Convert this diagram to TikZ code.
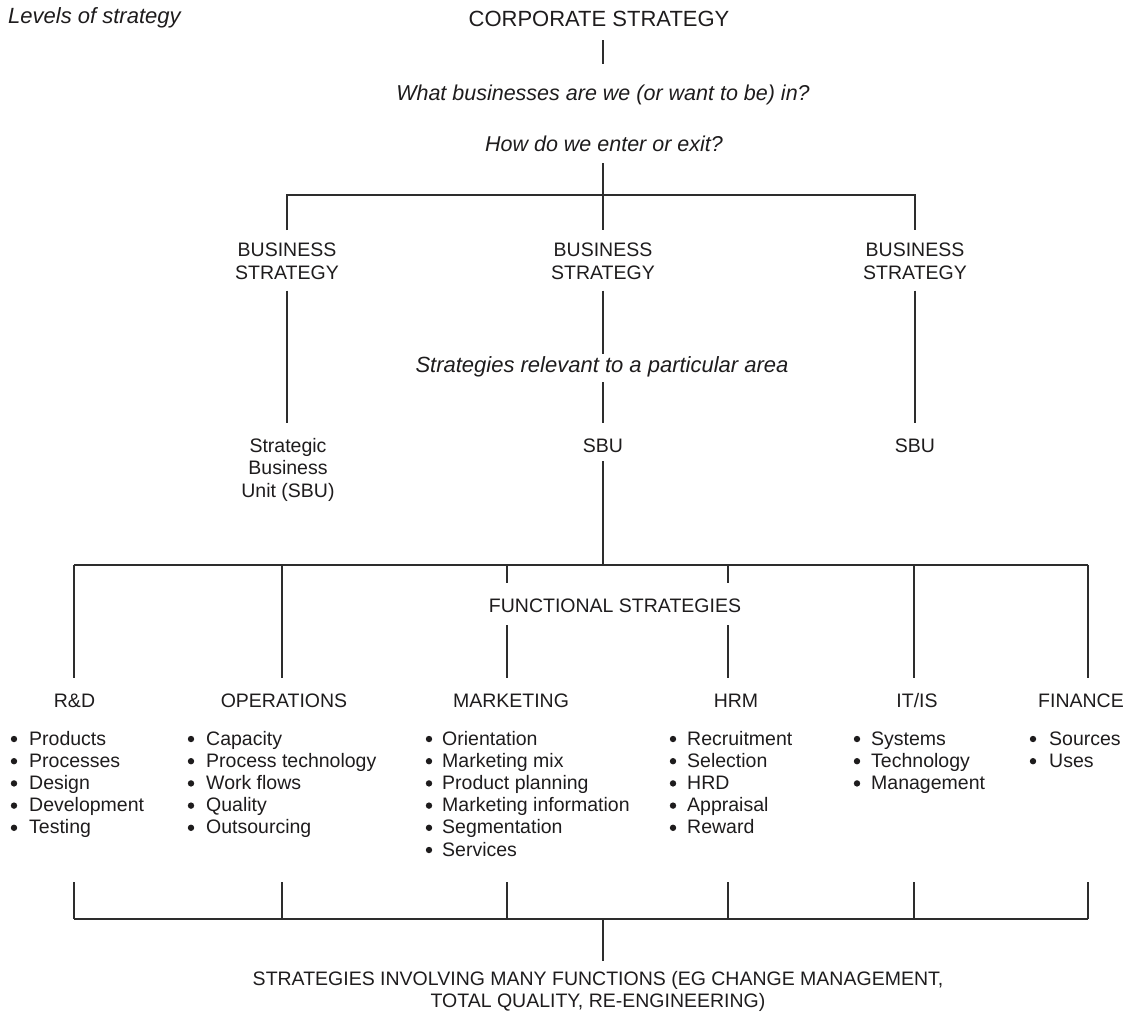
\documentclass[tikz,border=0pt]{standalone}
\usepackage{fontspec}
\setmainfont{Liberation Sans}
\usetikzlibrary{calc}
\definecolor{ink}{RGB}{30,28,29}
\definecolor{rule}{RGB}{45,45,45}

% one column of bulleted items: name, text x, bullet x, items
\newcommand\itemcolumn[4]{%
  \foreach \lbl [count=\i] in {#4} {
    \node[item] (#1-\i) at (#2, {745+22.2*(\i-1)}) {\lbl};
    \fill[ink] (#3, {739+22.2*(\i-1)}) circle (3.2pt);
  }}

\begin{document}
\begin{tikzpicture}[x=1pt,y=-1pt,
  txt/.style={inner sep=0pt, text=ink, font=\fontsize{19.5}{22.4}\selectfont},
  one/.style={txt, anchor=base, text height=14pt, text depth=0pt},
  multi/.style={txt, anchor=north, align=center},
  item/.style={txt, anchor=base west},
  itl/.style={one, font=\itshape\fontsize{22}{26}\selectfont, text height=16pt},
  big/.style={one, font=\fontsize{22}{26}\selectfont, text height=16pt},
  link/.style={draw=rule, line width=1.3pt},
]
\useasboundingbox (0,0) rectangle (1134,1015);

% ---- corporate level ----
\node[itl, anchor=base west] (title) at (8,23) {Levels of strategy};
\node[big] (corp) at (599,26) {CORPORATE STRATEGY};
\node[itl, font=\itshape\fontsize{21.5}{26}\selectfont] (what) at (603,100) {What businesses are we (or want to be) in?};
\node[itl, font=\itshape\fontsize{21.5}{26}\selectfont] (how) at (604,151) {How do we enter or exit?};

\coordinate (spine) at (603,195);
\draw[link] ($(corp.south -| spine)+(0,14)$) -- ($(what.north -| spine)+(0,-20)$);
\draw[link] ($(how.south -| spine)+(0,12)$) -- (spine);

% ---- business level ----
\node[multi] (bs1) at (287,243) {BUSINESS\\STRATEGY};
\node[multi] (bs2) at (603,243) {BUSINESS\\STRATEGY};
\node[multi] (bs3) at (915,243) {BUSINESS\\STRATEGY};

\draw[link] ($(bs1.north)+(0,-13)$) -- (bs1.north |- spine) -- (bs3.north |- spine) -- ($(bs3.north)+(0,-13)$);
\draw[link] (spine) -- ($(bs2.north -| spine)+(0,-13)$);

\node[itl] (rel) at (602,372) {Strategies relevant to a particular area};

\node[multi] (sbu1) at (288,438) {Strategic\\Business\\Unit (SBU)};
\node[one] (sbu2) at (603,452) {SBU};
\node[one] (sbu3) at (915,452) {SBU};

\draw[link] ($(bs1.south)+(0,11)$) -- ($(sbu1.north -| bs1.south)+(0,-15)$);
\draw[link] ($(bs2.south -| spine)+(0,11)$) -- ($(rel.north -| spine)+(0,-2)$);
\draw[link] ($(rel.south -| spine)+(0,10)$) -- ($(sbu2.north -| spine)+(0,-15)$);
\draw[link] ($(bs3.south)+(0,11)$) -- ($(sbu3.north)+(0,-15)$);

% ---- functional level ----
\coordinate (fhub) at (603,565);
\coordinate (c1) at (74,565);
\coordinate (c2) at (282,565);
\coordinate (c3) at (507,565);
\coordinate (c4) at (728,565);
\coordinate (c5) at (914,565);
\coordinate (c6) at (1088,565);

\draw[link] ($(sbu2.south -| fhub)+(0,9)$) -- (fhub);
\draw[link] (c1) -- (c6);

\node[one] (func) at (615,612) {FUNCTIONAL STRATEGIES};

\node[one] (rd)  at (74.5,707) {R\&D};
\node[one] (ops) at (284,707) {OPERATIONS};
\node[one] (mkt) at (511,707) {MARKETING};
\node[one] (hrm) at (736,707) {HRM};
\node[one] (it)  at (917,707) {IT/IS};
\node[one] (fin) at (1081,707) {FINANCE};

\draw[link] (c1) -- ($(c1 |- rd.north)+(0,-15)$);
\draw[link] (c2) -- ($(c2 |- ops.north)+(0,-15)$);
\draw[link] (c5) -- ($(c5 |- it.north)+(0,-15)$);
\draw[link] (c6) -- ($(c6 |- fin.north)+(0,-15)$);
\draw[link] (c3) -- ($(c3 |- func.north)+(0,-15)$);
\draw[link] (c4) -- ($(c4 |- func.north)+(0,-15)$);
\draw[link] ($(c3 |- func.south)+(0,13)$) -- ($(c3 |- mkt.north)+(0,-15)$);
\draw[link] ($(c4 |- func.south)+(0,13)$) -- ($(c4 |- hrm.north)+(0,-15)$);

\itemcolumn{rd}{29}{14}{Products, Processes, Design, Development, Testing}
\itemcolumn{ops}{206}{191}{Capacity, Process technology, Work flows, Quality, Outsourcing}
\itemcolumn{mkt}{442}{429}{Orientation, Marketing mix, Product planning, Marketing information, Segmentation, Services}
\itemcolumn{hrm}{687}{673}{Recruitment, Selection, HRD, Appraisal, Reward}
\itemcolumn{it}{871}{857}{Systems, Technology, Management}
\itemcolumn{fin}{1049}{1033}{Sources, Uses}

% ---- cross-functional level ----
\coordinate (b1) at (74,919);
\coordinate (b2) at (282,919);
\coordinate (b3) at (507,919);
\coordinate (b4) at (728,919);
\coordinate (b5) at (914,919);
\coordinate (b6) at (1088,919);
\coordinate (bhub) at (603,919);

\draw[link] (b1) -- (b6);
\foreach \b in {b1,b2,b3,b4,b5,b6}
  \draw[link] ($(\b)+(0,-37)$) -- (\b);

\node[multi] (many) at (598,971) {STRATEGIES INVOLVING MANY FUNCTIONS (EG CHANGE MANAGEMENT,\\TOTAL QUALITY, RE-ENGINEERING)};
\draw[link] (bhub) -- ($(many.north -| bhub)+(0,-10)$);
\end{tikzpicture}
\end{document}
